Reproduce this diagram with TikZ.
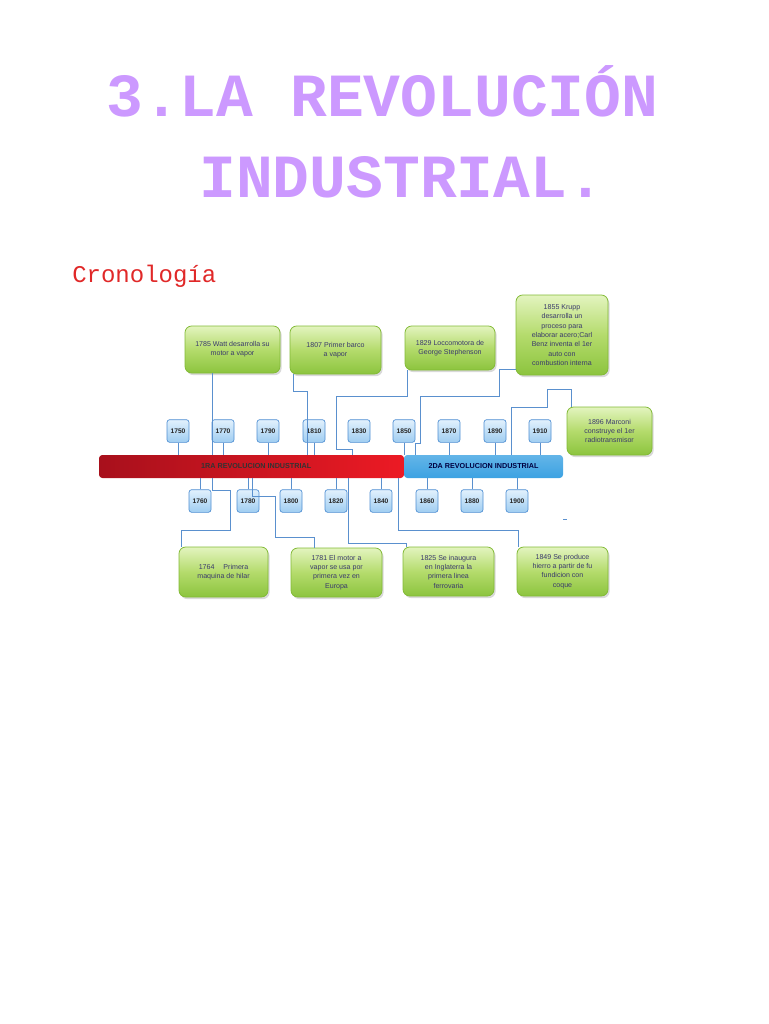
\documentclass[tikz,border=0pt]{standalone}
\usepackage{fontspec}
\setmainfont{Liberation Sans}
\newfontfamily\titulofont{Liberation Mono}
\usepackage{xcolor}
\usepackage{tikz}
\usetikzlibrary{shadows}
\definecolor{lila}{HTML}{CC99FF}
\definecolor{rojotxt}{HTML}{E02828}
\definecolor{verdeA}{HTML}{E3F4BF}
\definecolor{verdeB}{HTML}{B4DB6C}
\definecolor{verdeC}{HTML}{8CC43E}
\definecolor{verdeborde}{HTML}{82BA36}
\definecolor{azulA}{HTML}{E2F1FD}
\definecolor{azulB}{HTML}{9FCDF1}
\definecolor{azulborde}{HTML}{4E8ED2}
\definecolor{rojoA}{HTML}{A8101C}
\definecolor{rojoB}{HTML}{EC1A24}
\definecolor{celeste}{HTML}{3CA2E2}
\definecolor{conector}{HTML}{5A90CE}
\definecolor{txt}{HTML}{3A3A6C}

\begin{document}
\begin{tikzpicture}[x=0.75pt, y=-0.75pt,
    evento/.style={draw=verdeborde, line width=0.6pt, rounded corners=5pt, top color=verdeA, bottom color=verdeC, middle color=verdeB, minimum width=68.25pt, minimum height=36.75pt, inner sep=2pt, align=center, text=txt, font=\fontsize{5.3}{7}\selectfont, drop shadow={shadow xshift=1.2pt, shadow yshift=-1.6pt, opacity=0.3}},
    anio/.style={draw=azulborde, line width=0.5pt, rounded corners=2pt, top color=azulA, bottom color=azulB, minimum width=16.5pt, minimum height=17pt, inner sep=0pt, text=black!85, font=\fontsize{5}{6}\selectfont\bfseries},
    barra/.style={rounded corners=2.5pt, minimum height=17.25pt, inner sep=0pt, font=\fontsize{5.4}{6}\selectfont\bfseries},
    conex/.style={draw=conector, line width=0.65pt},
]
    \useasboundingbox (0,0) rectangle (768,1024);

    % Titulo
    \node[anchor=base west, inner sep=0pt, text=lila, font=\titulofont\bfseries\fontsize{46}{46}\selectfont] (tit1) at (106,117) {3.LA REVOLUCIÓN};
    \node[anchor=base west, inner sep=0pt, text=lila, font=\titulofont\bfseries\fontsize{46}{46}\selectfont] (tit2) at (199,197) {INDUSTRIAL.};
    \node[anchor=base west, inner sep=0pt, text=rojotxt, font=\titulofont\fontsize{18}{18}\selectfont] (crono) at (72,282) {Cronología};

    % Barras
    \node[barra, left color=rojoA, right color=rojoB, minimum width=228.75pt, text=black!80] (rev1) at (251.5,466.5) {\hspace*{7pt}1RA REVOLUCION INDUSTRIAL};
    \node[barra, top color=celeste!80!white, bottom color=celeste, minimum width=119.25pt, text=black!75!blue] (rev2) at (483.5,466.5) {2DA REVOLUCION INDUSTRIAL};

    % Años arriba
    \node[anio] (a1750) at (178,431) {1750};
    \node[anio] (a1770) at (223,431) {1770};
    \node[anio] (a1790) at (268,431) {1790};
    \node[anio] (a1810) at (314,431) {1810};
    \node[anio] (a1830) at (359,431) {1830};
    \node[anio] (a1850) at (404,431) {1850};
    \node[anio] (a1870) at (449,431) {1870};
    \node[anio] (a1890) at (495,431) {1890};
    \node[anio] (a1910) at (540,431) {1910};

    % Años abajo
    \node[anio] (a1760) at (200,501) {1760};
    \node[anio] (a1780) at (248,501) {1780};
    \node[anio] (a1800) at (291,501) {1800};
    \node[anio] (a1820) at (336,501) {1820};
    \node[anio] (a1840) at (381,501) {1840};
    \node[anio] (a1860) at (427,501) {1860};
    \node[anio] (a1880) at (472,501) {1880};
    \node[anio] (a1900) at (517,501) {1900};

    % Eventos
    \node[evento, minimum width=71.25pt, minimum height=35.25pt] (watt) at (232.5,349.5) {1785 Watt desarrolla su\\motor a vapor};
    \node[evento, minimum height=36pt] (barco) at (335.5,350) {1807 Primer barco\\a vapor};
    \node[evento, minimum width=67.5pt, minimum height=33pt] (locco) at (450,348) {1829 Loccomotora de\\George Stephenson};
    \node[evento, minimum width=69pt, minimum height=60pt] (krupp) at (562,335) {1855 Krupp\\desarrolla un\\proceso para\\elaborar acero;Carl\\Benz inventa el 1er\\auto con\\combustion interna};
    \node[evento, minimum width=63.75pt, minimum height=36pt] (marconi) at (609.5,431) {1896 Marconi\\construye el 1er\\radiotransmisor};
    \node[evento, minimum width=66.75pt, minimum height=37.5pt] (hilar) at (223.5,572) {1764 \quad Primera\\maquina de hilar};
    \node[evento] (motor) at (336.5,572.5) {1781 El motor a\\vapor se usa por\\primera vez en\\Europa};
    \node[evento] (ferro) at (448.5,571.5) {1825 Se inaugura\\en Inglaterra la\\primera linea\\ferrovaria};
    \node[evento] (hierro) at (562.5,571.5) {1849 Se produce\\hierro a partir de fu\\fundicion con\\coque};

    % Marcas
    \draw[conex] (a1750) -- (a1750 |- rev1.north);
    \draw[conex] (a1770) -- (a1770 |- rev1.north);
    \draw[conex] (a1790) -- (a1790 |- rev1.north);
    \draw[conex] (a1810) -- (a1810 |- rev1.north);
    \draw[conex] (a1850) -- (a1850 |- rev1.north);
    \draw[conex] (a1870) -- (a1870 |- rev2.north);
    \draw[conex] (a1890) -- (a1890 |- rev2.north);
    \draw[conex] (a1910) -- (a1910 |- rev2.north);
    \draw[conex] (a1760) -- (a1760 |- rev1.south);
    \draw[conex] (a1780) -- (a1780 |- rev1.south);
    \draw[conex] (a1800) -- (a1800 |- rev1.south);
    \draw[conex] (a1820) -- (a1820 |- rev1.south);
    \draw[conex] (a1840) -- (a1840 |- rev1.south);
    \draw[conex] (a1860) -- (a1860 |- rev2.south);
    \draw[conex] (a1880) -- (a1880 |- rev2.south);
    \draw[conex] (a1900) -- (a1900 |- rev2.south);

    % Conectores
    \draw[conex] (watt.south -| 212,0) -- (212,0 |- rev1.north);
    \draw[conex] (212,0 |- rev1.south) -- (212,490) -- (230,490) -- (230,530) -- (181,530) -- (hilar.north -| 181,0);
    \draw[conex] (barco.south -| 293,0) -- (293,391) -- (307,391) -- (307,0 |- rev1.north);
    \draw[conex] (locco.south -| 407,0) -- (407,396) -- (336,396) -- (336,449) -- (352,449) -- (352,0 |- rev1.north);
    \draw[conex] (krupp.west |- 0,369) -- (499,369) -- (499,396) -- (420,396) -- (420,443) -- (415,443) -- (415,0 |- rev2.north);
    \draw[conex] (marconi.north -| 571,0) -- (571,389) -- (547,389) -- (547,407) -- (511,407) -- (511,0 |- rev2.north);
    \draw[conex] (252,0 |- rev1.south) -- (252,496) -- (275,496) -- (275,537) -- (314,537) -- (motor.north -| 314,0);
    \draw[conex] (348,0 |- rev1.south) -- (348,543) -- (406,543) -- (ferro.north -| 406,0);
    \draw[conex] (398,0 |- rev1.south) -- (398,530) -- (518,530) -- (hierro.north -| 518,0);
    \draw[conex] (563,519) -- (567,519);
\end{tikzpicture}
\end{document}
